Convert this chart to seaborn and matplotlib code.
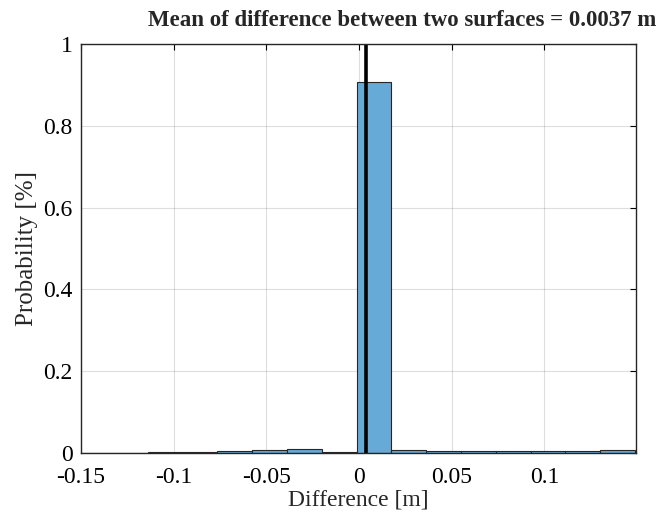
import numpy as np
import pandas as pd
import matplotlib
matplotlib.use("Agg")
import matplotlib.pyplot as plt
import seaborn as sns

# ---- data ----
bin_start = -0.1516
bin_width = 0.01878
probabilities = [0.0003, 0.001, 0.002, 0.003, 0.005, 0.008, 0.009, 0.003,
                 0.908, 0.007, 0.005, 0.005, 0.004, 0.005, 0.005, 0.007]
mean_difference = 0.0037
x_ticks = [-0.15, -0.1, -0.05, 0, 0.05, 0.1]
x_tick_labels = ["-0.15", "-0.1", "-0.05", "0", "0.05", "0.1"]
y_ticks = [0, 0.2, 0.4, 0.6, 0.8, 1]
y_tick_labels = ["0", "0.2", "0.4", "0.6", "0.8", "1"]
title = "Mean of difference between two surfaces = 0.0037 m"
x_label = "Difference [m]"
y_label = "Probability [%]"

edges = bin_start + bin_width * np.arange(len(probabilities) + 1)
centers = (edges[:-1] + edges[1:]) / 2
df = pd.DataFrame({"diff": centers, "prob": probabilities})

sns.set_style("white")
plt.rcParams["font.family"] = ["Liberation Serif", "DejaVu Serif"]
plt.rcParams["mathtext.fontset"] = "stix"

fig = plt.figure(figsize=(6.56, 5.16), dpi=100)
ax = fig.add_axes([0.1235, 0.1221, 0.846, 0.7926])

sns.histplot(data=df, x="diff", weights="prob", bins=list(edges), ax=ax,
             color=(0.4, 0.668, 0.845), alpha=1.0, edgecolor=(0.15, 0.15, 0.15),
             linewidth=0.8, zorder=2)
ax.axvline(mean_difference, color="black", linewidth=2.6, zorder=3)

ax.set_xlim(-0.15, 0.1494)
ax.set_ylim(0, 1)
ax.set_xticks(x_ticks)
ax.set_xticklabels(x_tick_labels)
ax.set_yticks(y_ticks)
ax.set_yticklabels(y_tick_labels)
ax.grid(True, color=(0.15, 0.15, 0.15), alpha=0.15, linewidth=0.8, zorder=0)
ax.set_axisbelow(True)
ax.tick_params(direction="in", length=4, width=0.8, top=True, right=True,
               labelsize=17, colors="black")
ax.tick_params(axis="x", pad=10)
ax.tick_params(axis="y", pad=6)
for s in ax.spines.values():
    s.set_visible(True)
    s.set_color((0.15, 0.15, 0.15))
    s.set_linewidth(1.0)
    s.set_zorder(4)

ax.set_xlabel(x_label, fontsize=17, labelpad=1)
ax.set_ylabel(y_label, fontsize=18, labelpad=4)
fig.text(402 / 656, 1 - 21 / 516, title, fontsize=16.5, fontweight="bold",
         ha="center", va="center")

fig.savefig("out.png", dpi=100)
